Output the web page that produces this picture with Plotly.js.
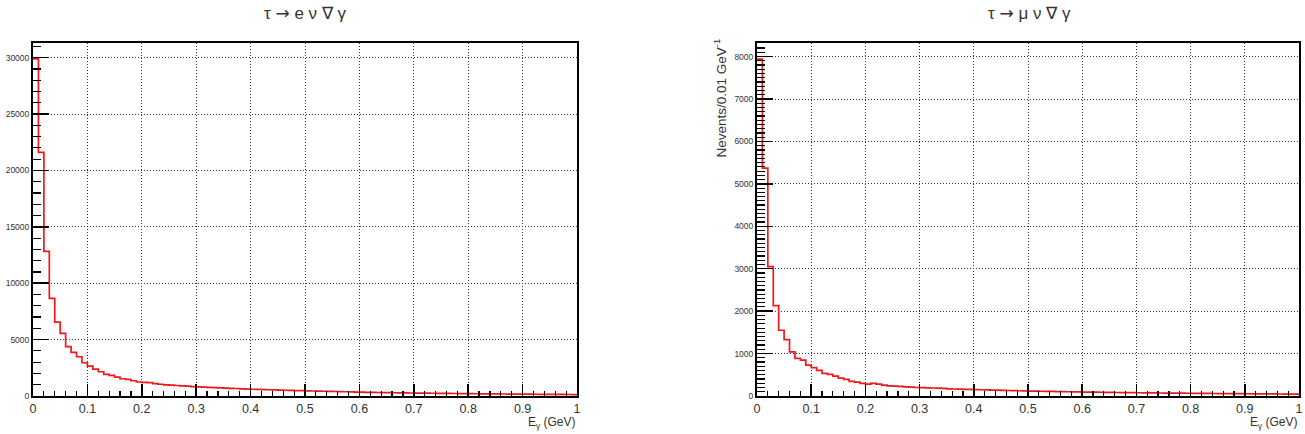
<!DOCTYPE html>
<html>
<head>
<meta charset="utf-8">
<script src="https://cdn.plot.ly/plotly-3.0.1.min.js"></script>
<style>
  html, body { margin: 0; padding: 0; background: #fff; }
  #plot { width: 1305px; height: 434px; }
</style>
</head>
<body>
<div id="plot"></div>
<script>
// Photon energy spectra in radiative tau decays, 100 bins of 0.01 GeV on [0, 1]
const binLow = 0.0;
const binHigh = 1.0;
const nBins = 100;

// tau -> e nu nubar gamma : events per bin
const electronCounts = [
  29900, 21600, 12830, 8650, 6550, 5550, 4370, 3860, 3480, 2950,
  2650, 2390, 2150, 1920, 1830, 1680, 1530, 1480, 1350, 1240,
  1210, 1180, 1090, 1040, 990, 960, 930, 900, 870, 840,
  810, 790, 770, 745, 725, 700, 680, 665, 640, 615,
  600, 585, 570, 555, 540, 525, 510, 500, 485, 470,
  455, 445, 435, 420, 410, 400, 385, 375, 360, 345,
  335, 330, 320, 310, 305, 295, 290, 280, 275, 265,
  260, 255, 250, 245, 240, 235, 228, 222, 218, 212,
  205, 200, 196, 192, 188, 183, 178, 175, 170, 166,
  162, 158, 155, 150, 147, 143, 140, 136, 133, 128
];

// tau -> mu nu nubar gamma : events per bin
const muonCounts = [
  7940, 5370, 3050, 2130, 1550, 1330, 1040, 885, 845, 728,
  667, 603, 533, 509, 470, 423, 392, 345, 329, 298,
  282, 298, 280, 258, 240, 232, 225, 215, 208, 200,
  196, 192, 188, 186, 178, 170, 165, 162, 158, 155,
  150, 147, 144, 140, 137, 133, 130, 127, 124, 120,
  117, 115, 112, 110, 108, 105, 102, 100, 97, 95,
  93, 91, 89, 88, 86, 84, 82, 81, 79, 78,
  77, 75, 74, 72, 71, 70, 68, 67, 66, 65,
  64, 62, 61, 60, 59, 58, 57, 56, 55, 54,
  53, 52, 51, 50, 49, 48, 47, 46, 45, 44
];

const arrow = '<span style="font-family:DejaVu Sans">→</span>';
const panelTitles = ['τ ' + arrow + ' e ν ∇ γ', 'τ ' + arrow + ' μ ν ∇ γ'];
const xTitle = 'E<sub>γ</sub> (GeV)';
const yTitle = 'Nevents/0.01 GeV<sup>-1</sup>';

// Step outline through the bin edges (last content repeated at the upper edge)
function stepTrace(counts, xa, ya) {
  const w = (binHigh - binLow) / nBins;
  const xs = [], ys = [];
  for (let i = 0; i < counts.length; i++) { xs.push(binLow + i * w); ys.push(counts[i]); }
  xs.push(binHigh); ys.push(counts[counts.length - 1]);
  return {
    x: xs, y: ys, xaxis: xa, yaxis: ya,
    type: 'scatter', mode: 'lines',
    line: { shape: 'hv', color: '#f01818', width: 1.7 },
    hoverinfo: 'skip', showlegend: false
  };
}

const W = 1305, H = 434;
const px = v => v / W;
const py = v => 1 - v / H;

const font = 'Liberation Sans, Arial, sans-serif';
const frame = { showline: true, linecolor: '#000', linewidth: 2, mirror: true };
const grid = { showgrid: true, gridcolor: '#333', gridwidth: 1, griddash: '1px,2px', zeroline: false };

function xAxis(domain, anchor) {
  return Object.assign({
    domain: domain, anchor: anchor, range: [binLow, binHigh],
    dtick: 0.1, tick0: 0, ticks: 'inside', ticklen: 12, tickwidth: 1.5, tickcolor: '#000',
    minor: { ticks: 'inside', ticklen: 5, dtick: 0.02, tickcolor: '#000', tickwidth: 1.2, showgrid: false },
    tickfont: { family: font, size: 12.5, color: '#333' }
  }, frame, grid);
}
function yAxis(domain, anchor, top, major, minorStep) {
  return Object.assign({
    domain: domain, anchor: anchor, range: [0, top],
    dtick: major, tick0: 0, tickformat: 'd', ticks: 'inside', ticklen: 16, tickwidth: 1.5, tickcolor: '#000',
    minor: { ticks: 'inside', ticklen: 8, dtick: minorStep, tickcolor: '#000', tickwidth: 1.2, showgrid: false },
    tickfont: { family: font, size: 8.5, color: '#333' }
  }, frame, grid);
}

const yDom = [py(396), py(43)];
const leftDom = [px(33), px(577)];
const rightDom = [px(757), px(1299)];

const traces = [
  stepTrace(electronCounts, 'x', 'y'),
  stepTrace(muonCounts, 'x2', 'y2')
];

const annotations = [
  { text: panelTitles[0], xref: 'paper', yref: 'paper', x: px(305), y: py(13), xanchor: 'center', yanchor: 'middle',
    showarrow: false, font: { family: font, size: 17, color: '#333' } },
  { text: panelTitles[1], xref: 'paper', yref: 'paper', x: px(1029), y: py(13), xanchor: 'center', yanchor: 'middle',
    showarrow: false, font: { family: font, size: 17, color: '#333' } },
  { text: xTitle, xref: 'paper', yref: 'paper', x: px(578), y: py(423), xanchor: 'right', yanchor: 'middle',
    showarrow: false, font: { family: font, size: 12, color: '#333' } },
  { text: xTitle, xref: 'paper', yref: 'paper', x: px(1300), y: py(423), xanchor: 'right', yanchor: 'middle',
    showarrow: false, font: { family: font, size: 12, color: '#333' } },
  { text: yTitle, xref: 'paper', yref: 'paper', x: px(720), y: py(37), xanchor: 'center', yanchor: 'top',
    textangle: -90, showarrow: false, font: { family: font, size: 13.5, color: '#333' } }
];

const layout = {
  width: W, height: H,
  margin: { l: 0, r: 0, t: 0, b: 0 },
  paper_bgcolor: '#fff', plot_bgcolor: '#fff',
  showlegend: false,
  xaxis: xAxis(leftDom, 'y'),
  yaxis: yAxis(yDom, 'x', 31300, 5000, 1000),
  xaxis2: xAxis(rightDom, 'y2'),
  yaxis2: yAxis(yDom, 'x2', 8320, 1000, 100),
  annotations: annotations
};

Plotly.newPlot('plot', traces, layout, { staticPlot: true, displayModeBar: false });
</script>
</body>
</html>
